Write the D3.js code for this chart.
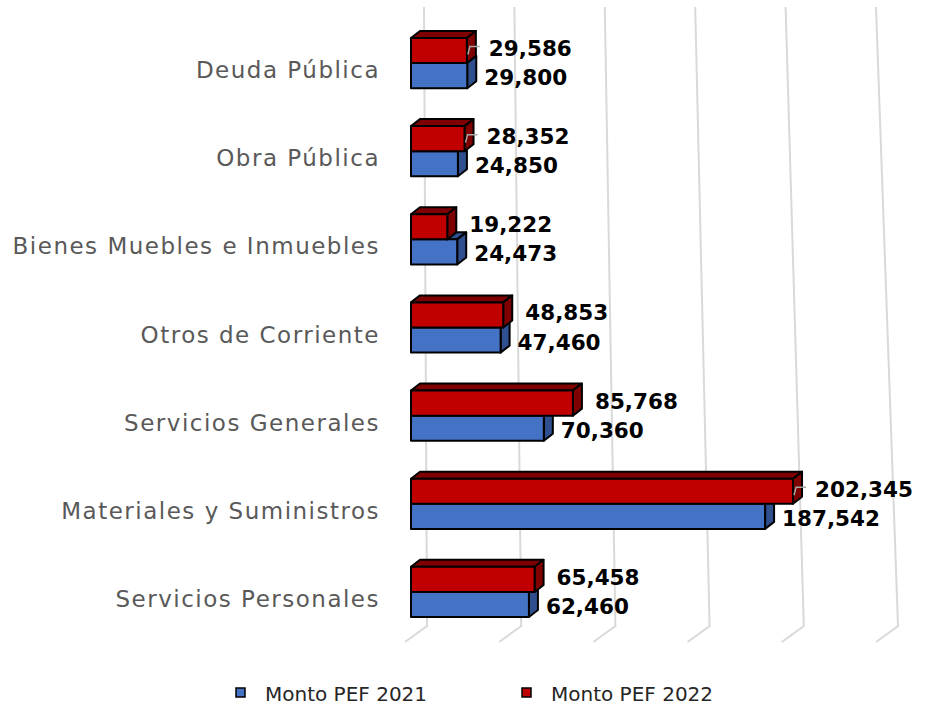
<!DOCTYPE html>
<html>
<head>
<meta charset="utf-8">
<script src="https://cdn.jsdelivr.net/npm/d3@7"></script>
<style>
  body { margin: 0; background: #fff; }
  text { font-family: "DejaVu Sans", sans-serif; }
</style>
</head>
<body>
<div id="chart"></div>
<script>
const categories = [
    "Deuda Pública", "Obra Pública", "Bienes Muebles e Inmuebles",
    "Otros de Corriente", "Servicios Generales", "Materiales y Suministros",
    "Servicios Personales"
];
const monto2021 = [29800, 24850, 24473, 47460, 70360, 187542, 62460];
const monto2022 = [29586, 28352, 19222, 48853, 85768, 202345, 65458];
const seriesNames = ["Monto PEF 2022", "Monto PEF 2021"];
const gridValues = [0, 50000, 100000, 150000, 200000, 250000];
// labels that Excel pushed off with a leader line
const leaderLabels = ["Deuda Pública", "Obra Pública", "Materiales y Suministros"];

const width = 927, height = 711;
const dx = 9, dy = -7; // 3D depth of the bars

const colors = {
    "Monto PEF 2022": { front: "#C00000", side: "#7F0000" },
    "Monto PEF 2021": { front: "#4472C4", side: "#2F4F8F" }
};

const svg = d3.select("#chart").append("svg")
    .attr("width", width)
    .attr("height", height);

const x = d3.scaleLinear().domain([0, 250000]).range([411, 883]);
// back wall has perspective: lines lean in toward the top
const xWallTop = d3.scaleLinear().domain([0, 250000]).range([424, 876]);
const xWallBottom = d3.scaleLinear().domain([0, 250000]).range([427, 898]);

const y = d3.scaleBand().domain(categories).range([19, 636])
    .paddingInner(0.43).paddingOuter(0.215);
const ySub = d3.scaleBand().domain(seriesNames).range([0, y.bandwidth()]);

// gridlines
const grid = svg.append("g").attr("stroke", "#D9D9D9").attr("stroke-width", 2).attr("fill", "none");
grid.selectAll("path").data(gridValues).join("path")
    .attr("d", v => `M${xWallTop(v)},7 L${xWallBottom(v)},626 L${xWallBottom(v) - 22},642`);

// bars
const rows = categories.map((c, i) => ({ cat: c, v2021: monto2021[i], v2022: monto2022[i] }));

function drawBar(g, series, v, y0) {
    const x0 = x(0), x1 = x(v), h = ySub.bandwidth();
    const col = colors[series];
    g.append("path")
        .attr("d", `M${x0},${y0} L${x0 + dx},${y0 + dy} L${x1 + dx},${y0 + dy} L${x1},${y0} Z`)
        .attr("fill", col.side);
    g.append("path")
        .attr("d", `M${x1},${y0} L${x1 + dx},${y0 + dy} L${x1 + dx},${y0 + h + dy} L${x1},${y0 + h} Z`)
        .attr("fill", col.side);
    g.append("rect")
        .attr("x", x0).attr("y", y0)
        .attr("width", x1 - x0).attr("height", h)
        .attr("fill", col.front);
}

const bars = svg.append("g").attr("stroke", "#000").attr("stroke-width", 2).attr("stroke-linejoin", "round");
rows.forEach(d => {
    const g = bars.append("g");
    drawBar(g, "Monto PEF 2021", d.v2021, y(d.cat) + ySub("Monto PEF 2021"));
    drawBar(g, "Monto PEF 2022", d.v2022, y(d.cat) + ySub("Monto PEF 2022"));
});

// value labels
const fmt = d3.format(",");
const labels = svg.append("g")
    .attr("font-weight", "bold").attr("font-size", 21.5).attr("fill", "#000");

rows.forEach(d => {
    const yRed = y(d.cat) + ySub("Monto PEF 2022") + ySub.bandwidth() / 2;
    const yBlue = y(d.cat) + ySub("Monto PEF 2021") + ySub.bandwidth() / 2;
    labels.append("text")
        .attr("x", x(d.v2022) + 22).attr("y", yRed - 2)
        .attr("dominant-baseline", "central")
        .text(fmt(d.v2022));
    labels.append("text")
        .attr("x", x(d.v2021) + 17).attr("y", yBlue + 2)
        .attr("dominant-baseline", "central")
        .text(fmt(d.v2021));
    if (leaderLabels.includes(d.cat)) {
        const xe = x(d.v2022);
        svg.append("path")
            .attr("d", `M${xe + 1},${yRed + 4} L${xe + 3},${yRed - 4} L${xe + 13},${yRed - 4}`)
            .attr("fill", "none").attr("stroke", "#A6A6A6").attr("stroke-width", 1.5);
    }
});

// category labels
svg.append("g").selectAll("text").data(categories).join("text")
    .attr("x", 380)
    .attr("y", c => y(c) + y.bandwidth() / 2 + 7)
    .attr("text-anchor", "end")
    .attr("dominant-baseline", "central")
    .attr("font-size", 23)
    .attr("letter-spacing", 1.5)
    .attr("fill", "#595959")
    .text(c => c);

// legend
const legendItems = [
    { name: "Monto PEF 2021", x: 236 },
    { name: "Monto PEF 2022", x: 522 }
];
const legend = svg.append("g");
legend.selectAll("rect").data(legendItems).join("rect")
    .attr("x", d => d.x).attr("y", 688)
    .attr("width", 9).attr("height", 9)
    .attr("fill", d => colors[d.name].front)
    .attr("stroke", "#000").attr("stroke-width", 1.5);
legend.selectAll("text").data(legendItems).join("text")
    .attr("x", d => d.x + 29).attr("y", 694)
    .attr("dominant-baseline", "central")
    .attr("font-size", 20)
    .attr("fill", "#262626")
    .text(d => d.name);
</script>
</body>
</html>
